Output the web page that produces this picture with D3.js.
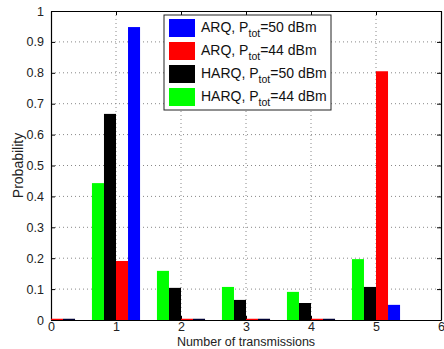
<!DOCTYPE html>
<html>
<head>
<meta charset="utf-8">
<script src="https://cdn.jsdelivr.net/npm/d3@7"></script>
<style>
body { margin: 0; background: #fff; }
text { font-family: "Liberation Sans", Arial, sans-serif; }
</style>
</head>
<body>
<div class="chart"></div>
<script>
// number of transmissions
const transmissions = [0, 1, 2, 3, 4, 5];
const harq44 = [0, 0.443, 0.159, 0.107, 0.091, 0.197];
const harq50 = [0, 0.667, 0.104, 0.065, 0.055, 0.107];
const arq44  = [0, 0.191, 0, 0, 0, 0.805];
const arq50  = [0, 0.948, 0, 0, 0, 0.049];
const xTicks = [0, 1, 2, 3, 4, 5, 6];
const yTicks = [0, 0.1, 0.2, 0.3, 0.4, 0.5, 0.6, 0.7, 0.8, 0.9, 1];

// drawing order inside each group, left to right
const series = [
  {name: "HARQ", p: "44", values: harq44, color: "#00ff00"},
  {name: "HARQ", p: "50", values: harq50, color: "#000000"},
  {name: "ARQ",  p: "44", values: arq44,  color: "#ff0000"},
  {name: "ARQ",  p: "50", values: arq50,  color: "#0000ff"}
];
const legendOrder = [3, 2, 1, 0];

const W = 444, H = 349;
const margin = {top: 11, right: 3, bottom: 29, left: 51};

const xScale = d3.scaleLinear().domain([0, 6]).range([margin.left, W - margin.right]);
const yScale = d3.scaleLinear().domain([0, 1]).range([H - margin.bottom, margin.top]);
const barW = 0.185;

const svg = d3.select(".chart").append("svg")
    .attr("width", W)
    .attr("height", H);

svg.append("defs").append("clipPath").attr("id", "plot")
  .append("rect")
    .attr("x", margin.left).attr("y", margin.top)
    .attr("width", xScale(6) - xScale(0)).attr("height", yScale(0) - yScale(1));

// grid
const grid = svg.append("g").attr("class", "grid");
grid.selectAll(".gx").data(xTicks.slice(1, -1)).enter().append("line")
    .attr("x1", d => xScale(d)).attr("x2", d => xScale(d))
    .attr("y1", yScale(0)).attr("y2", yScale(1))
    .attr("stroke", "#888").attr("stroke-dasharray", "1,3");
grid.selectAll(".gy").data(yTicks.slice(1, -1)).enter().append("line")
    .attr("y1", d => yScale(d)).attr("y2", d => yScale(d))
    .attr("x1", xScale(0)).attr("x2", xScale(6))
    .attr("stroke", "#888").attr("stroke-dasharray", "1,3");

// axes (ticks inward, box)
const yAxis = d3.axisLeft(yScale).tickValues(yTicks).tickSizeInner(-4).tickSizeOuter(0)
    .tickFormat(d => d === 0 ? "0" : d === 1 ? "1" : d3.format(".1f")(d)).tickPadding(7);
svg.append("g").attr("class", "axis y-axis")
    .attr("transform", "translate(" + margin.left + ",0)")
    .call(yAxis);
svg.append("g").attr("class", "axis y-axis-right")
    .attr("transform", "translate(" + xScale(6) + ",0)")
    .call(d3.axisRight(yScale).tickValues(yTicks).tickSizeInner(-4).tickSizeOuter(0).tickFormat(""));

const xAxis = d3.axisBottom(xScale).tickValues(xTicks).tickSizeInner(-4).tickSizeOuter(0)
    .tickFormat(d3.format("d")).tickPadding(2);
svg.append("g").attr("class", "axis x-axis")
    .attr("transform", "translate(0," + yScale(0) + ")")
    .call(xAxis);
svg.append("g").attr("class", "axis x-axis-top")
    .attr("transform", "translate(0," + yScale(1) + ")")
    .call(d3.axisTop(xScale).tickValues(xTicks).tickSizeInner(-4).tickSizeOuter(0).tickFormat(""));

svg.selectAll(".axis path").attr("stroke", "#000").attr("stroke-width", 1.2);
svg.selectAll(".axis line").attr("stroke", "#000");
svg.selectAll(".axis text").attr("font-size", 12.5).attr("fill", "#222")
    .style("font-family", "'Liberation Sans', Arial, sans-serif");

// bars
const bars = svg.append("g").attr("clip-path", "url(#plot)");
series.forEach(function(s, i) {
    const g = bars.append("g");
    g.selectAll("rect").data(transmissions.filter((t, j) => s.values[j] > 0)).enter()
      .append("rect")
        .attr("x", t => xScale(t + (i - 2) * barW))
        .attr("width", xScale(barW) - xScale(0))
        .attr("y", t => yScale(s.values[transmissions.indexOf(t)]))
        .attr("height", t => yScale(0) - yScale(s.values[transmissions.indexOf(t)]))
        .attr("fill", s.color);
    g.selectAll("line").data(transmissions.filter((t, j) => s.values[j] === 0)).enter()
      .append("line")
        .attr("x1", t => xScale(t + (i - 2) * barW))
        .attr("x2", t => xScale(t + (i - 1) * barW))
        .attr("y1", yScale(0) - 0.5).attr("y2", yScale(0) - 0.5)
        .attr("stroke", s.color === "#0000ff" ? "#000033" : s.color).attr("stroke-width", 1.5);
});

// axis labels
svg.append("text")
    .attr("x", (xScale(0) + xScale(6)) / 2)
    .attr("y", H - 3)
    .attr("text-anchor", "middle")
    .attr("font-size", 12.5)
    .attr("fill", "#222")
    .text("Number of transmissions");
svg.append("text")
    .attr("transform", "translate(23," + (yScale(0.5)) + ") rotate(-90)")
    .attr("text-anchor", "middle")
    .attr("font-size", 14)
    .attr("fill", "#222")
    .text("Probability");

// legend
const lx = 164, ly = 15;
const legend = svg.append("g").attr("transform", "translate(" + lx + "," + ly + ")");
legend.append("rect")
    .attr("x", 0).attr("y", 0).attr("width", 167).attr("height", 95)
    .attr("fill", "#fff").attr("stroke", "#222").attr("stroke-width", 1);
legendOrder.forEach(function(k, r) {
    const s = series[k];
    const row = legend.append("g").attr("transform", "translate(0," + (4 + r * 23) + ")");
    row.append("rect").attr("x", 5).attr("y", 0).attr("width", 26).attr("height", 18).attr("fill", s.color);
    const t = row.append("text").attr("x", 37).attr("y", 13).attr("font-size", 14).attr("fill", "#111");
    t.append("tspan").text(s.name + ", P");
    t.append("tspan").attr("font-size", 10.5).attr("dy", 5).text("tot");
    t.append("tspan").attr("dy", -5).text("=" + s.p + " dBm");
});
</script>
</body>
</html>
